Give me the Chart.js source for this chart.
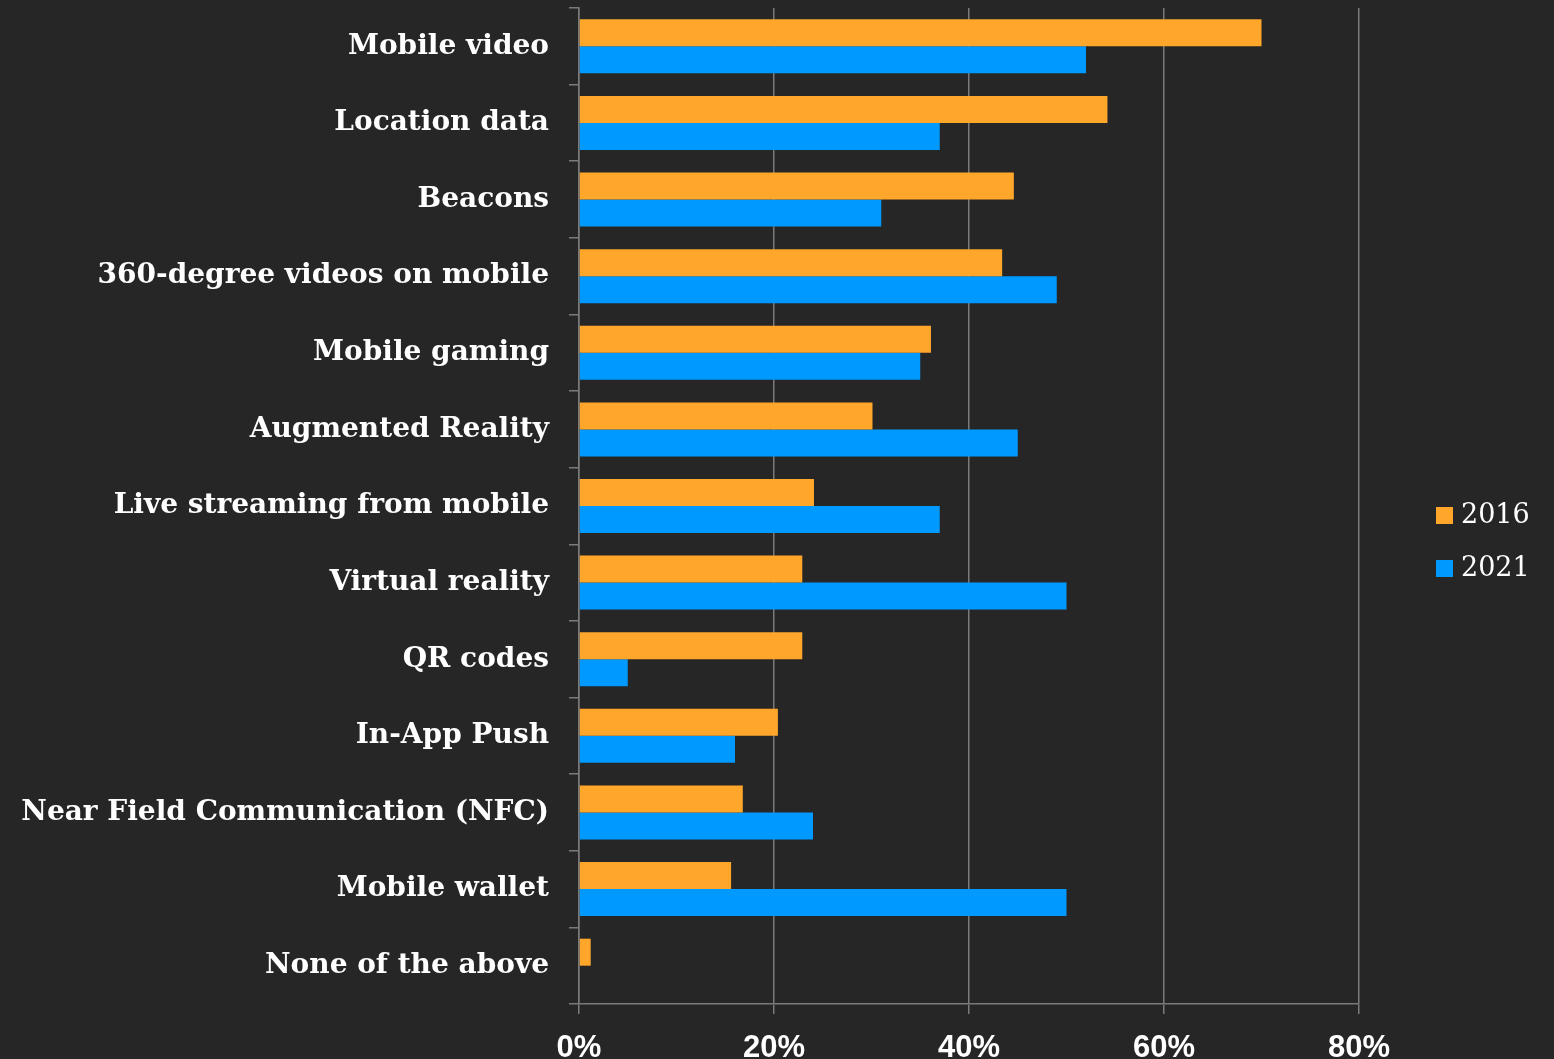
<!DOCTYPE html>
<html>
<head>
<meta charset="utf-8">
<script src="https://cdn.jsdelivr.net/npm/chart.js@4"></script>
<style>
  html, body { margin: 0; padding: 0; background: #262626; }
  #wrap { width: 1554px; height: 1059px; position: relative; }
</style>
</head>
<body>
<div id="wrap"><canvas id="chart_tech"></canvas></div>
<script>
const categories = [
  'Mobile video', 'Location data', 'Beacons', '360-degree videos on mobile',
  'Mobile gaming', 'Augmented Reality', 'Live streaming from mobile',
  'Virtual reality', 'QR codes', 'In-App Push',
  'Near Field Communication (NFC)', 'Mobile wallet', 'None of the above'
];
const values2016 = [70, 54.2, 44.6, 43.4, 36.1, 30.1, 24.1, 22.9, 22.9, 20.4, 16.8, 15.6, 1.2];
const values2021 = [52, 37, 31, 49, 35, 45, 37, 50, 5, 16, 24, 50, 0];
const xTicks = [0, 20, 40, 60, 80];

const gridGray = '#7a7a7a';

// legend drawn at the right, square swatch + year
const sideLegend = {
  id: 'sideLegend',
  afterDraw(chart) {
    const ctx = chart.ctx;
    const x = 1436;
    const ys = [515, 568];
    ctx.save();
    ctx.font = '27px "DejaVu Serif"';
    ctx.textBaseline = 'middle';
    chart.data.datasets.forEach((ds, i) => {
      ctx.fillStyle = ds.backgroundColor;
      ctx.fillRect(x, ys[i] - 8, 17, 17);
      ctx.fillStyle = '#ffffff';
      ctx.fillText(ds.label, x + 25, ys[i] + 1);
    });
    ctx.restore();
  }
};

const ctxTech = document.getElementById('chart_tech');
const techChart = new Chart(ctxTech, {
  type: 'bar',
  data: {
    labels: categories,
    datasets: [
      { label: '2016', data: values2016, backgroundColor: '#ffa62b' },
      { label: '2021', data: values2021, backgroundColor: '#0099ff' }
    ]
  },
  options: {
    indexAxis: 'y',
    responsive: true,
    maintainAspectRatio: false,
    animation: false,
    layout: {
      padding: { top: 8, right: 195, left: 0, bottom: 0 }
    },
    datasets: {
      bar: { categoryPercentage: 0.705, barPercentage: 1.0 }
    },
    plugins: {
      legend: { display: false },
      tooltip: { enabled: false }
    },
    scales: {
      x: {
        min: 0,
        max: 80,
        afterBuildTicks: (scale) => { scale.ticks = xTicks.map(v => ({ value: v })); },
        afterFit: (scale) => {
          scale.height = 55;
          scale.paddingLeft = 0;
          scale.paddingRight = 0;
        },
        grid: { color: gridGray, tickLength: 10, lineWidth: 1.5 },
        border: { color: gridGray, width: 1.5 },
        ticks: {
          color: '#ffffff',
          padding: 16,
          font: { family: '"Liberation Sans"', size: 31, weight: 'bold' },
          callback: (v) => v + '%'
        }
      },
      y: {
        afterFit: (scale) => {
          scale.width = 579;
          scale.paddingTop = 0;
          scale.paddingBottom = 0;
        },
        grid: { drawOnChartArea: false, color: gridGray, tickLength: 10, lineWidth: 1.5 },
        border: { color: gridGray, width: 1.5 },
        ticks: {
          color: '#ffffff',
          padding: 20,
          font: { family: '"DejaVu Serif"', size: 28, weight: 'bold' }
        }
      }
    }
  },
  plugins: [sideLegend]
});
</script>
</body>
</html>
